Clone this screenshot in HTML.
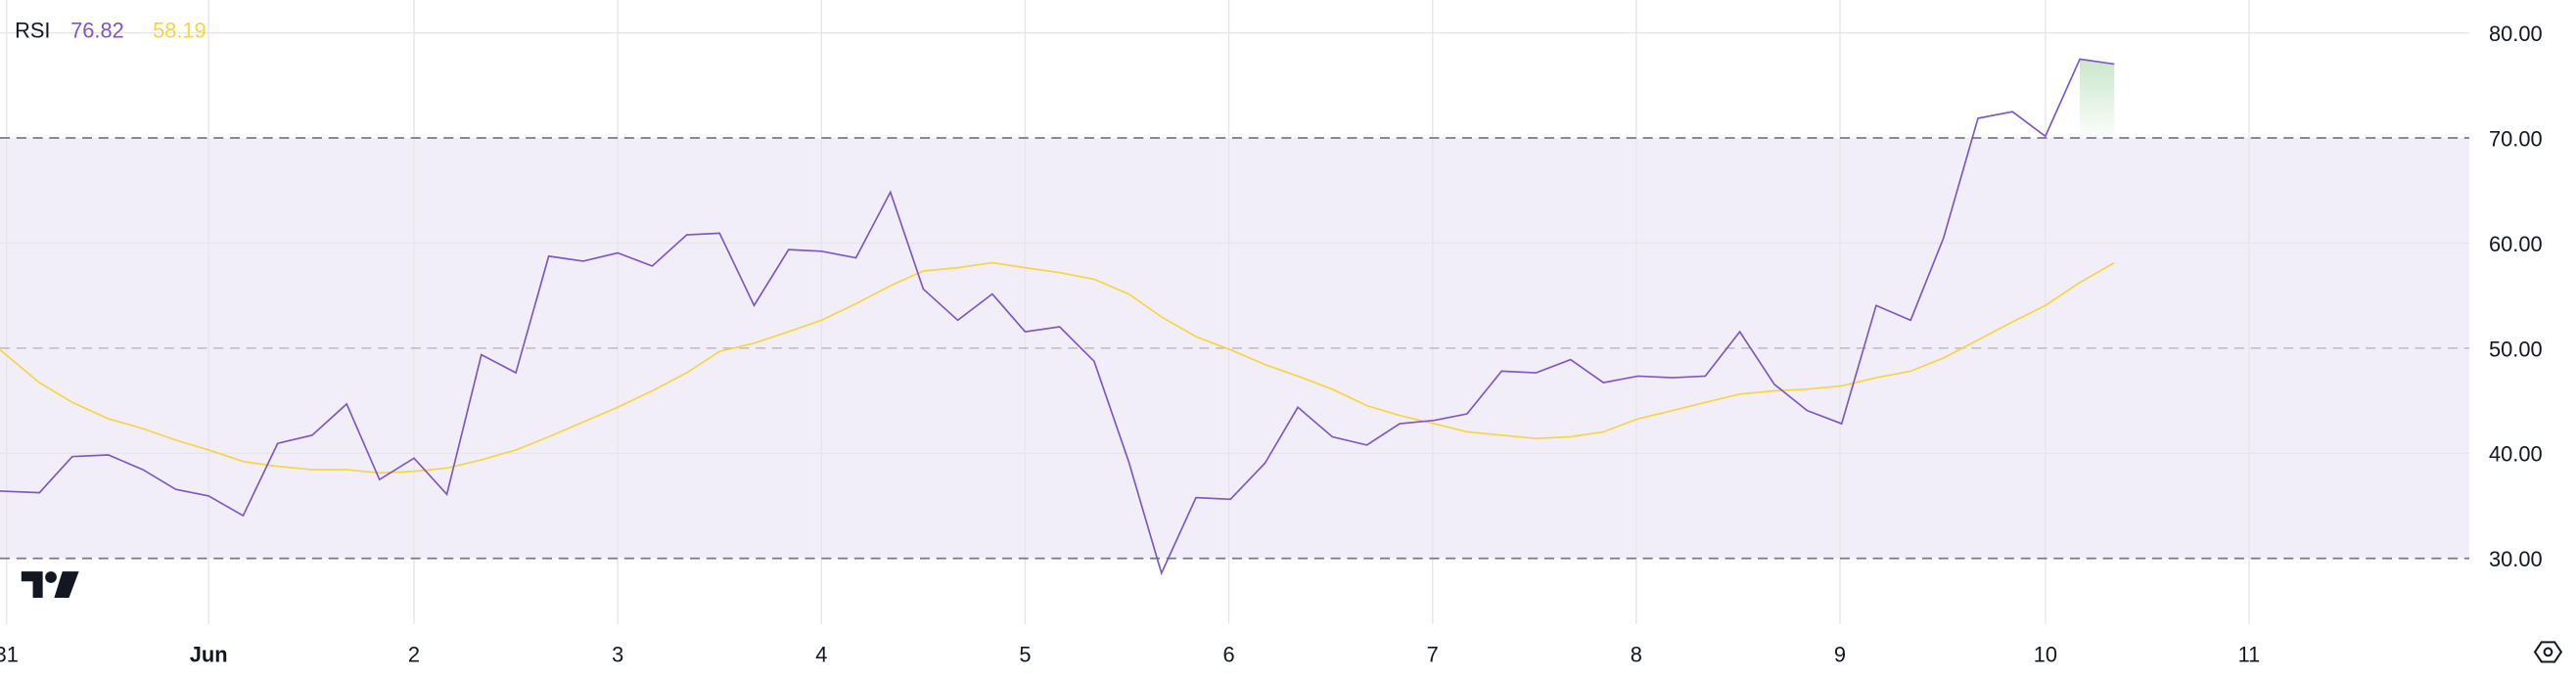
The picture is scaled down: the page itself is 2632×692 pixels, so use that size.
<!DOCTYPE html>
<html><head><meta charset="utf-8"><style>
html,body{margin:0;padding:0;background:#fff;}
svg{display:block;}
text{font-family:"Liberation Sans",sans-serif;}
</style></head><body>
<svg width="2632" height="692" viewBox="0 0 1568 412.24" xmlns="http://www.w3.org/2000/svg">
<defs>
<linearGradient id="g" x1="0" y1="0" x2="0" y2="1">
<stop offset="0" stop-color="#4caf50" stop-opacity="0.3"/>
<stop offset="1" stop-color="#4caf50" stop-opacity="0.02"/>
</linearGradient>
</defs>
<rect x="0" y="84" width="1503" height="256" fill="#7e57c2" fill-opacity="0.1"/>
<g stroke="#e6e6ea" stroke-width="0.8">
<line x1="4" y1="0" x2="4" y2="380"/>
<line x1="127" y1="0" x2="127" y2="380"/>
<line x1="252" y1="0" x2="252" y2="380"/>
<line x1="376" y1="0" x2="376" y2="380"/>
<line x1="500" y1="0" x2="500" y2="380"/>
<line x1="624" y1="0" x2="624" y2="380"/>
<line x1="748" y1="0" x2="748" y2="380"/>
<line x1="872" y1="0" x2="872" y2="380"/>
<line x1="996" y1="0" x2="996" y2="380"/>
<line x1="1120" y1="0" x2="1120" y2="380"/>
<line x1="1245" y1="0" x2="1245" y2="380"/>
<line x1="1369" y1="0" x2="1369" y2="380"/>
<line x1="0" y1="20" x2="1503" y2="20"/>
<line x1="0" y1="148" x2="1503" y2="148"/>
<line x1="0" y1="276" x2="1503" y2="276"/>
</g>
<line x1="0" y1="212" x2="1503" y2="212" stroke="#b0b0bc" stroke-width="0.8" stroke-dasharray="6,4"/>
<line x1="0" y1="84" x2="1503" y2="84" stroke="#787b86" stroke-width="1" stroke-dasharray="6,4"/>
<line x1="0" y1="340" x2="1503" y2="340" stroke="#787b86" stroke-width="1" stroke-dasharray="6,4"/>
<polygon points="1266,36 1287,39 1287,84 1266,84" fill="url(#g)"/>
<polyline fill="none" stroke="#f7d443" stroke-width="1" points="0,213 24,233 44,245 66,255 87,261 107,268 127,274 148,281 169,284 190,286 211,286 231,288 252,287 272,285 293,280 314,274 334,266 355,257 376,248 397,238 418,227 438,214 459,209 480,202 500,195 521,185 542,174 562,165 583,163 604,160 624,163 645,166 666,170 687,179 707,193 728,205 749,213 770,222 790,229 811,237 832,247 852,253 873,258 893,263 914,265 935,267 956,266 976,263 997,255 1018,250 1038,245 1059,240 1080,238 1100,237 1121,235 1142,230 1163,226 1183,218 1204,207 1225,196 1245,186 1266,172 1287,160"/>
<polyline fill="none" stroke="#7e57c2" stroke-width="1" points="0,299 24,300 44,278 66,277 87,286 107,298 127,302 148,314 169,270 190,265 211,246 231,292 252,279 272,301 293,216 314,227 334,156 355,159 376,154 397,162 418,143 438,142 459,186 480,152 500,153 521,157 542,117 562,176 583,195 604,179 624,202 645,199 666,220 687,281 707,349 728,303 749,304 770,282 790,248 811,266 832,271 852,258 873,256 893,252 914,226 935,227 956,219 976,233 997,229 1018,230 1038,229 1059,202 1080,234 1100,250 1121,258 1142,186 1163,195 1183,145 1204,72 1225,68 1245,83 1266,36 1287,39"/>
<text x="9" y="23" font-size="13" fill="#131722">RSI</text>
<text x="43" y="23" font-size="13" fill="#7e57c2">76.82</text>
<text x="93" y="23" font-size="13" fill="#f7d443">58.19</text>
<g font-size="13" fill="#131722">
<text x="1515" y="25">80.00</text>
<text x="1515" y="89">70.00</text>
<text x="1515" y="153">60.00</text>
<text x="1515" y="217">50.00</text>
<text x="1515" y="281">40.00</text>
<text x="1515" y="345">30.00</text>
</g>
<g font-size="13" fill="#131722" text-anchor="middle">
<text x="4" y="403">31</text>
<text x="127" y="403" font-weight="bold">Jun</text>
<text x="252" y="403">2</text>
<text x="376" y="403">3</text>
<text x="500" y="403">4</text>
<text x="624" y="403">5</text>
<text x="748" y="403">6</text>
<text x="872" y="403">7</text>
<text x="996" y="403">8</text>
<text x="1120" y="403">9</text>
<text x="1245" y="403">10</text>
<text x="1369" y="403">11</text>
</g>
<g fill="#131722">
<path d="M13,348 H26 V364 H20 V354 H13 Z"/>
<circle cx="31" cy="351.5" r="3.5"/>
<path d="M38,348 H48 L42,364 H33 Z"/>
</g>
<g fill="none" stroke="#131722" stroke-width="1.2">
<path d="M1543,397 L1547,391 H1555 L1559,397 L1555,403 H1547 Z"/>
<circle cx="1551" cy="397" r="2.3"/>
</g>
</svg>
</body></html>
